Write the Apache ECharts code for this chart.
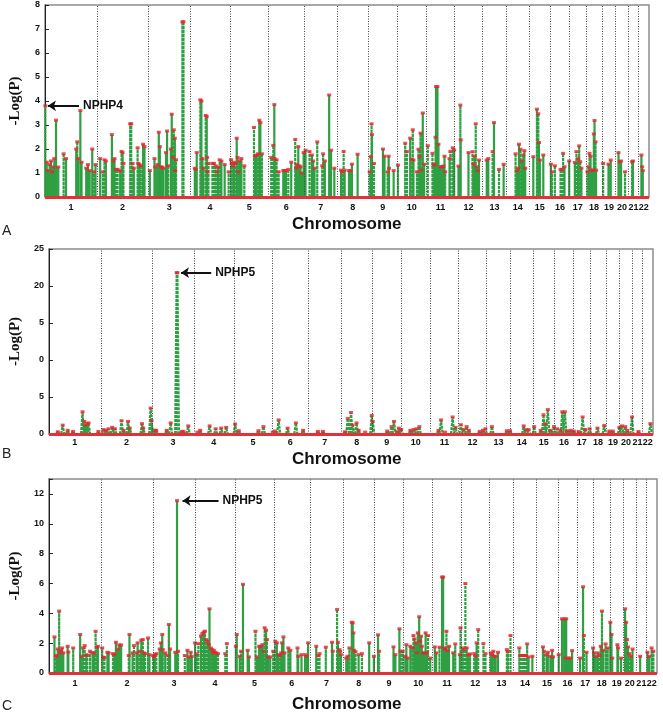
<!DOCTYPE html>
<html><head><meta charset="utf-8">
<script src="https://cdn.jsdelivr.net/npm/echarts@6/dist/echarts.min.js"></script>
<style>html,body{margin:0;padding:0;background:#fff}#c{width:663px;height:715px}</style>
</head><body><div id="c"></div>
<script>
// ---------- DATA ----------
const chromosomes = ['1','2','3','4','5','6','7','8','9','10','11','12','13','14','15','16','17','18','19','20','21','22'];
const chromLengths = [301,298,242,231,224,207,193,179,168,168,165,161,140,130,126,109,95,95,77,74,60,60]; // cM
const yTicksA = ['0','1','2','3','4','5','6','7','8'];
const yTicksB = ['0','5','0','5','20','25'];
const yTicksC = ['0','2','4','6','8','10','12'];
const panelLetters = ['A','B','C'];
const axisTitle = 'Chromosome';
const yTitle = '-Log(P)';
const genes = ['NPHP4','NPHP5','NPHP5'];

// [genome position (cM), -log(P)]
const scoresA = [
[2,3.8],[10,1.45],[15,1.1],[27,1.35],[35,1.5],[41,1.05],[48,1.25],[54,1.6],[64,3.2],[77,1.25],[108,1.8],[122,1.6],[181,2.0],[187,2.3],[191,1.6],[205,3.6],[212,1.45],[239,1.2],[249,1.35],[259,1.1],[274,2.0],[284,1.05],[293,1.35],
[320,1.6],[336,1.05],[345,1.55],[353,1.5],[388,2.6],[396,1.5],[403,1.6],[411,1.15],[421,1.15],[436,1.1],[444,1.9],[450,1.85],[455,1.4],[494,3.05],[500,3.05],[508,1.4],[515,1.2],[537,2.05],[542,1.4],[548,1.35],[556,1.3],[569,2.2],[577,2.1],
[608,1.1],[635,1.6],[639,1.25],[652,1.35],[660,2.7],[666,2.1],[672,1.25],[679,1.25],[687,1.2],[702,1.85],[708,2.75],[714,1.3],[730,2.0],[735,3.45],[741,1.65],[747,2.8],[753,2.45],[755,1.1],[760,1.55],[797,7.3],[803,7.3],
[869,1.2],[874,1.15],[880,1.85],[901,4.05],[907,4.0],[913,1.6],[918,1.2],[932,3.4],[938,3.35],[940,1.65],[942,1.05],[948,1.4],[971,1.4],[980,1.4],[990,1.3],[996,1.05],[1004,1.25],[1013,1.55],[1023,1.5],[1042,1.35],[1065,1.05],
[1079,1.55],[1083,1.4],[1090,1.3],[1096,1.45],[1106,1.4],[1112,2.45],[1117,1.65],[1121,1.05],[1127,1.5],[1139,1.6],[1156,1.3],[1212,2.9],[1218,1.7],[1226,1.75],[1235,1.8],[1243,3.2],[1249,3.1],[1258,1.8],
[1312,1.65],[1324,2.15],[1330,3.85],[1332,1.6],[1343,1.55],[1355,1.05],[1382,1.1],[1390,1.1],[1397,1.1],[1411,1.15],[1428,1.45],[1451,2.4],[1455,1.2],[1461,1.35],[1469,2.1],[1476,1.3],[1482,1.25],[1488,1.0],[1500,1.85],
[1511,1.95],[1534,1.9],[1548,1.75],[1555,1.5],[1563,1.2],[1579,2.3],[1608,1.3],[1613,1.8],[1623,1.5],[1648,4.25],[1659,1.95],[1678,1.2],
[1717,1.12],[1724,1.05],[1732,1.9],[1738,1.12],[1763,1.1],[1773,1.1],[1780,1.37],[1813,1.78],
[1883,1.05],[1890,1.68],[1894,3.05],[1896,2.6],[1908,1.4],[1960,2.0],[1969,1.7],[1987,1.05],[1993,1.7],[1995,1.2],[2022,1.1],[2047,1.33],
[2089,2.24],[2099,1.9],[2118,2.45],[2126,1.57],[2133,2.8],[2137,1.54],[2157,1.05],[2166,1.99],[2172,1.68],[2178,2.66],[2182,1.12],[2191,3.5],[2199,1.37],
[2220,2.14],[2247,1.82],[2253,1.33],[2259,1.37],[2265,2.49],[2268,4.6],[2276,4.6],[2282,2.2],[2294,1.26],[2301,1.26],[2311,1.29],[2317,1.7],[2321,1.05],[2346,1.6],[2351,1.9],[2365,2.05],[2373,1.96],
[2398,1.29],[2409,3.83],[2411,2.38],[2456,1.85],[2479,1.89],[2484,1.37],[2492,1.7],[2498,3.05],[2504,1.26],[2510,1.1],[2517,1.54],
[2562,1.54],[2571,1.6],[2596,1.89],[2604,3.1],[2633,1.15],[2660,1.36],
[2729,1.8],[2737,1.1],[2743,1.2],[2749,2.2],[2758,1.99],[2764,1.5],[2774,1.75],[2780,1.93],[2785,1.2],
[2832,1.68],[2853,3.66],[2861,3.47],[2865,2.27],[2870,1.54],[2890,1.75],
[2934,1.37],[2940,1.05],[2957,1.3],[2990,1.15],[2999,1.15],[3005,1.82],[3013,1.26],[3040,1.5],
[3073,1.44],[3082,1.89],[3092,1.6],[3098,2.13],[3104,1.47],[3111,1.2],
[3146,1.05],[3152,1.26],[3158,1.82],[3164,1.7],[3169,1.12],[3179,1.12],[3183,2.63],[3187,3.19],[3193,2.3],[3196,1.12],
[3237,1.4],[3268,1.37],[3281,1.54],
[3326,1.85],[3333,1.47],[3341,1.5],[3364,1.05],
[3405,1.47],[3410,1.5],
[3459,1.75],[3463,1.26],[3467,1.1]
];

const scoresB = [
[52,0.3],[80,1.2],[109,0.5],[140,0.35],[195,3.0],[205,1.7],[211,1.2],[222,1.4],[230,1.5],[287,0.35],[316,0.6],[331,0.5],[345,0.7],[367,0.9],[383,0.7],[421,1.8],[433,0.5],[459,1.7],[469,0.8],[540,1.4],[547,0.8],[590,3.5],[595,1.8],[614,0.5],[622,0.5],[683,0.5],[706,1.5],[741,21.8],[745,21.8],[771,0.35],[781,0.35],[808,1.1],[861,0.25],[877,0.5],[932,1.1],[967,0.7],[999,0.8],[1028,0.9],[1080,1.35],[1101,0.45],[1215,0.45],[1244,1.0],[1298,0.25],[1311,0.4],[1332,1.9],[1384,0.8],[1432,1.5],[1474,0.5],[1560,0.35],[1589,0.35],
[1717,0.3],[1733,2.1],[1752,2.9],[1761,1.2],[1784,1.5],[1796,0.5],[1834,0.25],[1872,2.5],[1878,1.7],[1962,0.4],[1987,1.0],[2001,1.7],[2020,0.3],[2029,0.8],[2043,0.6],[2096,0.5],[2115,0.6],[2131,0.7],[2148,1.0],[2259,0.5],[2274,1.9],[2297,0.25],[2341,2.3],[2358,0.9],[2389,1.25],[2404,0.6],[2422,1.0],[2435,0.5],[2498,0.35],[2517,0.5],[2531,0.7],[2569,1.0],[2655,0.45],[2674,0.45],[2753,1.1],[2766,0.6],[2782,0.6],[2814,1.0],[2852,0.5],[2868,2.6],[2877,1.4],[2893,3.3],[2910,0.5],[2929,1.0],[2948,0.7],[2967,0.5],[2977,3.0],[2992,3.0],[3005,0.45],[3025,0.5],[3044,0.4],[3072,0.35],[3095,2.3],[3111,0.6],[3136,0.7],[3181,0.8],[3220,1.15],[3250,0.4],[3270,0.4],[3308,0.9],[3323,1.1],[3342,1.0],[3354,0.5],[3381,2.3],[3419,0.35],[3488,1.4]
];

const scoresC = [
[32,2.42],[40,1.17],[47,1.12],[51,1.61],[59,4.15],[64,1.35],[70,1.52],[76,1.68],[83,1.35],[108,1.79],[112,1.41],[140,1.68],[180,2.58],[187,1.12],[197,1.68],[206,1.84],[216,1.23],[221,1.17],[237,1.46],[252,1.35],[259,1.35],[269,2.8],[276,1.73],[282,1.79],
[307,1.68],[312,1.05],[320,1.05],[337,1.39],[344,1.35],[369,1.3],[377,1.23],[386,2.06],[397,1.61],[405,1.88],[416,1.88],[460,1.17],[464,2.58],[482,1.35],[490,1.84],[505,1.35],[511,2.02],[524,1.46],[532,2.2],[541,2.24],[547,1.35],[554,1.3],[571,2.35],[579,1.23],
[600,1.17],[605,1.08],[611,1.23],[619,1.3],[638,1.61],[645,2.02],[653,2.58],[656,1.57],[670,1.35],[685,1.17],[691,3.25],[698,1.61],[728,1.39],[738,11.55],[744,1.46],[783,1.17],[798,1.52],[804,1.08],[817,1.39],[823,1.12],
[842,2.02],[851,1.28],[861,1.97],[876,2.47],[884,2.65],[892,2.74],[899,2.8],[906,2.24],[914,2.13],[921,1.9],[925,4.3],[933,1.68],[940,1.57],[944,1.35],[950,1.52],[955,1.39],[963,1.35],[974,1.3],[1016,1.3],[1025,1.97],
[1077,1.79],[1082,2.58],[1099,1.12],[1107,1.46],[1118,5.94],[1145,1.52],[1152,1.08],[1190,2.8],[1198,1.08],[1211,1.79],[1220,1.79],[1230,1.9],[1235,1.46],[1243,3.03],[1251,2.87],[1256,2.24],[1262,1.08],[1275,1.08],
[1292,1.46],[1304,2.13],[1313,2.02],[1323,1.23],[1330,1.17],[1338,1.35],[1343,2.02],[1351,2.42],[1357,1.35],[1379,1.68],[1391,1.52],[1432,1.68],[1436,1.12],[1455,1.23],[1476,1.23],[1485,1.12],[1493,2.02],
[1540,1.79],[1550,1.17],[1559,1.3],[1595,1.73],[1631,2.06],[1635,1.46],[1660,4.26],[1665,2.06],[1673,1.57],[1678,1.46],[1682,1.23],
[1713,1.0],[1720,1.12],[1731,1.68],[1745,3.4],[1750,3.36],[1754,2.69],[1758,1.52],[1766,1.43],[1784,1.23],[1803,1.3],[1845,2.02],
[1872,1.12],[1896,2.56],[1902,1.46],[1985,1.75],[1996,1.23],[2019,2.96],[2025,1.46],[2038,1.46],
[2053,1.12],[2059,1.9],[2066,1.0],[2082,1.79],[2095,1.68],[2100,2.51],[2106,2.29],[2114,2.02],[2119,1.35],[2125,2.69],[2133,3.77],[2138,2.13],[2144,2.47],[2148,1.79],[2155,1.35],[2163,1.35],[2170,2.69],[2178,1.35],[2184,2.51],[2197,1.0],
[2223,1.75],[2231,1.35],[2250,1.73],[2265,6.43],[2271,6.43],[2276,1.68],[2284,1.61],[2290,2.8],[2295,1.5],[2305,1.79],[2329,1.35],[2341,1.95],
[2367,1.23],[2371,3.03],[2384,1.68],[2394,1.57],[2399,6.0],[2407,1.68],[2416,1.23],[2426,1.28],[2450,1.3],[2458,1.12],[2464,2.02],[2473,2.91],[2503,1.97],[2515,1.3],
[2545,1.35],[2553,1.23],[2560,1.46],[2568,1.12],[2573,1.12],[2587,1.39],[2638,1.57],[2644,1.46],[2659,2.51],
[2710,1.68],[2715,1.17],[2723,1.17],[2730,1.17],[2742,1.17],[2747,1.17],[2755,1.95],[2763,1.08],[2785,1.12],
[2846,1.75],[2852,1.46],[2867,1.23],[2874,1.39],[2889,1.12],[2899,1.52],[2904,1.08],[2937,1.23],
[2956,3.63],[2969,3.63],[2976,1.0],[2980,3.63],[2992,1.0],[3003,1.0],[3014,1.5],
[3060,1.0],[3077,5.78],[3082,2.51],[3097,1.39],
[3135,1.68],[3141,1.35],[3149,1.12],[3162,1.35],[3173,1.17],[3179,1.79],[3186,4.15],[3192,1.52],[3207,1.95],[3219,1.68],
[3234,3.4],[3241,2.58],[3245,1.0],[3275,1.9],[3279,1.68],[3296,1.0],
[3319,4.3],[3325,3.4],[3330,2.24],[3336,1.75],[3343,1.3],[3353,1.12],[3362,1.61],
[3406,1.12],
[3448,1.39],[3457,1.12],[3472,1.68],[3482,1.46]
];

// gene annotations: [peak position, peak value, arrow tail position]
const annotations = [[17,3.8,197],[766,21.8,941],[770,11.55,977]];

// ---------- BUILD ----------
const total = chromLengths.reduce((a,b)=>a+b,0);
const bounds = []; let acc = 0;
const mids = [];
chromLengths.forEach(l=>{ mids.push(acc + l/2); acc += l; bounds.push(acc); });
const dividers = bounds.slice(0,-1);

function stems(pts, hw){
  const out=[];
  pts.forEach(([x,y])=>{ out.push([x-hw,0],[x,y],[x+hw,0],[x,'-']); });
  return out;
}

const panels = [
  {grid:{left:44,top:5,right:14,height:192}, max:8, interval:1, ticks:yTicksA, data:scoresA, hw:0, labelMargin:6, nameGap:22},
  {grid:{left:43,top:249,right:10,height:185}, max:25, interval:5, ticks:yTicksB, data:scoresB, hw:9, labelMargin:4, nameGap:22},
  {grid:{left:41,top:479,right:6,height:194}, max:13, interval:2, ticks:yTicksC, data:scoresC, hw:0, labelMargin:6, nameGap:22}
];

const FONT = "'Liberation Sans', Arial, sans-serif";
const grids=[], xAxes=[], yAxes=[], series=[];
panels.forEach((p,i)=>{
  grids.push(Object.assign({show:true, borderColor:'#8c8c8c', borderWidth:1.5, backgroundColor:'transparent'}, p.grid));
  xAxes.push({type:'value', gridIndex:i, min:0, max:total,
    axisLine:{show:false}, axisTick:{show:false}, splitLine:{show:false},
    axisLabel:{customValues:mids, interval:0, margin:p.labelMargin, fontSize:9, fontWeight:'bold', color:'#111', fontFamily:FONT,
      showMinLabel:true, showMaxLabel:true, hideOverlap:false,
      formatter:(v)=>{ let k=0,best=1e9; mids.forEach((m,j)=>{ if(Math.abs(m-v)<best){best=Math.abs(m-v);k=j;} }); return chromosomes[k]; }}
  });
  yAxes.push({type:'value', gridIndex:i, min:0, max:p.max, interval:p.interval,
    name:yTitle, nameLocation:'middle', nameGap:p.nameGap, nameRotate:90,
    nameTextStyle:{fontFamily:"'Liberation Serif','Times New Roman',serif", fontWeight:'bold', fontSize:15, color:'#111'},
    axisLine:{show:true, lineStyle:{color:'#222', width:1}},
    axisTick:{show:true, inside:true, length:4, lineStyle:{color:'#222'}},
    splitLine:{show:false},
    axisLabel:{fontSize:9, fontWeight:'bold', color:'#111', fontFamily:FONT, margin:5,
      formatter:(v)=>{ const k=Math.round(v/p.interval); return (Math.abs(v-k*p.interval)<1e-6 && k<p.ticks.length)? p.ticks[k] : ''; }}
  });
  series.push({type:'line', xAxisIndex:i, yAxisIndex:i, data:stems(p.data,p.hw), showSymbol:false, symbol:'none',
    connectNulls:false, animation:false, z:2, silent:true,
    lineStyle:{color:'#2f9f43', width:2.2, type:[3,1]},
    markLine:{silent:true, symbol:['none','none'], label:{show:false}, animation:false,
      lineStyle:{color:'#444', type:[1,1.5], width:1},
      data: dividers.map(b=>({xAxis:b}))}
  });
  series.push({type:'scatter', xAxisIndex:i, yAxisIndex:i, data:p.data, symbol:'rect', symbolSize:[4,3],
    itemStyle:{color:'#e5262e'}, z:4, animation:false, silent:true,
    markLine:{silent:true, symbol:['none','none'], label:{show:false}, animation:false,
      lineStyle:{color:'#e5303a', type:'solid', width:3}, data:[{yAxis:0}]}
  });
  const a = annotations[i];
  series.push({type:'lines', coordinateSystem:'cartesian2d', xAxisIndex:i, yAxisIndex:i, z:5, animation:false, silent:true,
    symbol:['arrow','none'], symbolSize:[8,9],
    lineStyle:{color:'#111', width:2, opacity:1},
    label:{show:true, position:'end', formatter:genes[i], fontFamily:FONT, fontWeight:'bold', fontSize:12, color:'#111', distance:4},
    data:[{coords:[[a[0],a[1]],[a[2],a[1]]]}]
  });
});

const titleYs = [226, 461, 706];
const letterYs = [232, 455, 707];
const graphic = [];
titleYs.forEach((y,i)=>{
  graphic.push({type:'text', left:292, top:y-10, style:{text:axisTitle, fontFamily:FONT, fontWeight:'bold', fontSize:17, fill:'#111'}});
  graphic.push({type:'text', left:2, top:letterYs[i]-8, style:{text:panelLetters[i], fontFamily:FONT, fontSize:14, fill:'#222'}});
});

const chart = echarts.init(document.getElementById('c'), null, {renderer:'canvas'});
chart.setOption({animation:false, grid:grids, xAxis:xAxes, yAxis:yAxes, series:series, graphic:graphic});
</script>
</body></html>
